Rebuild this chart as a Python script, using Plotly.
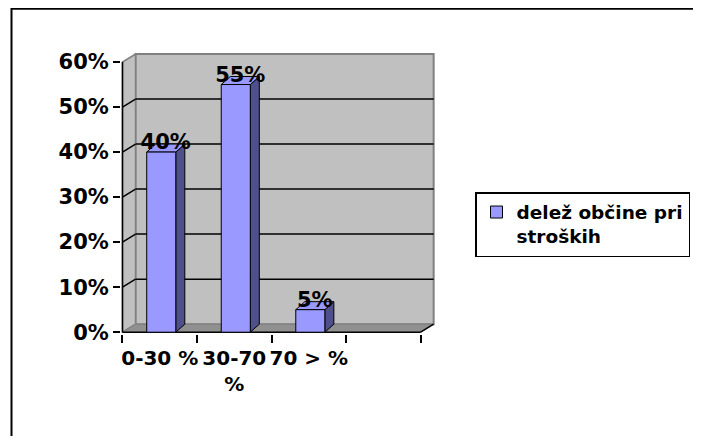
import plotly.graph_objects as go

# ---- data ----
categories = ["0-30 %", "30-70<br>%", "70 > %"]
values = [0.40, 0.55, 0.05]
series_name = "delež občine pri<br>stroških"
y_ticks = [0, 0.1, 0.2, 0.3, 0.4, 0.5, 0.6]

FONT = "DejaVu Sans"
N_SLOTS = 4                      # the category axis has one empty slot
x_pos = list(range(len(categories)))
X_LO, X_HI = -0.5, N_SLOTS - 0.5
Y_TOP = max(y_ticks)
DX, DY = 0.175, 0.0178            # wall depth (axis units)
BW = 0.39                         # bar width
BSHIFT = 0.02                     # bar shift inside its slot
BDX, BDY = 0.121, 0.0178          # bar depth

BAR_FRONT = "#9999FF"
BAR_SIDE = "#4F4F8C"
WALL = "#C0C0C0"
WALL_EDGE = "#808080"
FLOOR = "#909090"

OFF = 8                           # page body margin
W, H = 701 - 2 * OFF, 444 - 2 * OFF
ML, MT = 121 - OFF, 53 - OFF
MR = W - (437 - OFF)
MB = H - (334 - OFF)
PW, PH = W - ML - MR, H - MT - MB


def poly(pts):
    return "M " + " L ".join(f"{x},{y}" for x, y in pts) + " Z"


shapes = []
# back wall
shapes.append(dict(type="rect", xref="x", yref="y", layer="below",
                   x0=X_LO + DX, x1=X_HI + DX, y0=DY, y1=Y_TOP + DY,
                   fillcolor=WALL, line=dict(color=WALL_EDGE, width=2)))
# left wall
shapes.append(dict(type="path", xref="x", yref="y", layer="below",
                   path=poly([(X_LO, 0), (X_LO, Y_TOP), (X_LO + DX, Y_TOP + DY), (X_LO + DX, DY)]),
                   fillcolor=WALL, line=dict(color=WALL_EDGE, width=1.5)))
# floor
shapes.append(dict(type="path", xref="x", yref="y", layer="below",
                   path=poly([(X_LO, 0), (X_HI, 0), (X_HI + DX, DY), (X_LO + DX, DY)]),
                   fillcolor=FLOOR, line=dict(color=WALL_EDGE, width=1)))
# gridlines on back wall and left wall
for v in y_ticks[1:-1]:
    shapes.append(dict(type="line", xref="x", yref="y", layer="below",
                       x0=X_LO + DX, x1=X_HI + DX, y0=v + DY, y1=v + DY,
                       line=dict(color="black", width=1.5)))
    shapes.append(dict(type="line", xref="x", yref="y", layer="below",
                       x0=X_LO, x1=X_LO + DX, y0=v, y1=v + DY,
                       line=dict(color="black", width=1.5)))
# front axis lines
shapes.append(dict(type="line", xref="x", yref="y", layer="below",
                   x0=X_LO, x1=X_LO, y0=0, y1=Y_TOP, line=dict(color="black", width=1.5)))
shapes.append(dict(type="line", xref="x", yref="y", layer="below",
                   x0=X_LO, x1=X_HI, y0=0, y1=0, line=dict(color="black", width=1.5)))
shapes.append(dict(type="line", xref="x", yref="y", layer="below",
                   x0=X_HI, x1=X_HI + DX, y0=0, y1=DY, line=dict(color="black", width=1.5)))
# bar side and top faces
for x, v in zip(x_pos, values):
    l = x + BSHIFT - BW / 2
    r = x + BSHIFT + BW / 2
    shapes.append(dict(type="path", xref="x", yref="y", layer="below",
                       path=poly([(r, 0), (r, v), (r + BDX, v + BDY), (r + BDX, BDY)]),
                       fillcolor=BAR_SIDE, line=dict(color="black", width=1)))
    shapes.append(dict(type="path", xref="x", yref="y", layer="below",
                       path=poly([(l, v), (r, v), (r + BDX, v + BDY), (l + BDX, v + BDY)]),
                       fillcolor=BAR_FRONT, line=dict(color="black", width=1)))
# outer chart frame (cropped at right/bottom), in figure pixels -> paper
fx0, fy0 = 11 - OFF + 0.5, 0.8
shapes.append(dict(type="rect", xref="paper", yref="paper", layer="above",
                   x0=(fx0 - ML) / PW, x1=2.0,
                   y0=-0.8, y1=(H - MB - fy0) / PH,
                   line=dict(color="black", width=2), fillcolor="rgba(0,0,0,0)"))

fig = go.Figure()
fig.add_bar(
    x=x_pos, y=values, width=BW, offset=BSHIFT - BW / 2, name=series_name,
    marker=dict(color=BAR_FRONT, line=dict(color="black", width=1)),
    showlegend=True,
)
# data labels, centred on the bar tops (front + depth)
fig.add_scatter(
    x=[x + BSHIFT + BDX / 2 for x in x_pos], y=[v + BDY for v in values], mode="text",
    text=[f"{round(v * 100)}%" for v in values], textposition="middle center",
    textfont=dict(family=FONT, size=21, color="black", weight="bold"),
    showlegend=False, hoverinfo="skip", cliponaxis=False,
)

fig.update_layout(
    width=W, height=H,
    margin=dict(l=ML, r=MR, t=MT, b=MB, autoexpand=False),
    paper_bgcolor="white", plot_bgcolor="rgba(0,0,0,0)",
    shapes=shapes,
    showlegend=True,
    legend=dict(xref="container", yref="container",
                x=(475 - OFF) / W, y=1 - (192 - OFF) / H, xanchor="left", yanchor="top",
                bgcolor="white", bordercolor="black", borderwidth=1.5,
                font=dict(family=FONT, size=18.5, color="black", weight="bold"),
                valign="top"),
    xaxis=dict(range=[-0.52, 3.72], tickmode="array", tickvals=x_pos, ticktext=categories,
               ticks="", showgrid=False, zeroline=False, showline=False, automargin=False,
               tickangle=0,
               tickfont=dict(family=FONT, size=20, color="black", weight="bold"),
               ticklabelstandoff=10,
               minor=dict(tickmode="linear", tick0=X_LO, dtick=1, ticks="outside",
                          ticklen=8, tickwidth=1.5, tickcolor="black", showgrid=False)),
    yaxis=dict(range=[-0.004, 0.62], tickmode="array", tickvals=y_ticks, tickformat=".0%",
               ticks="outside", ticklen=7, tickwidth=1.5, tickcolor="black",
               showgrid=False, zeroline=False, showline=False, automargin=False,
               tickfont=dict(family=FONT, size=21, color="black", weight="bold")),
)

fig.write_html("out.html")
